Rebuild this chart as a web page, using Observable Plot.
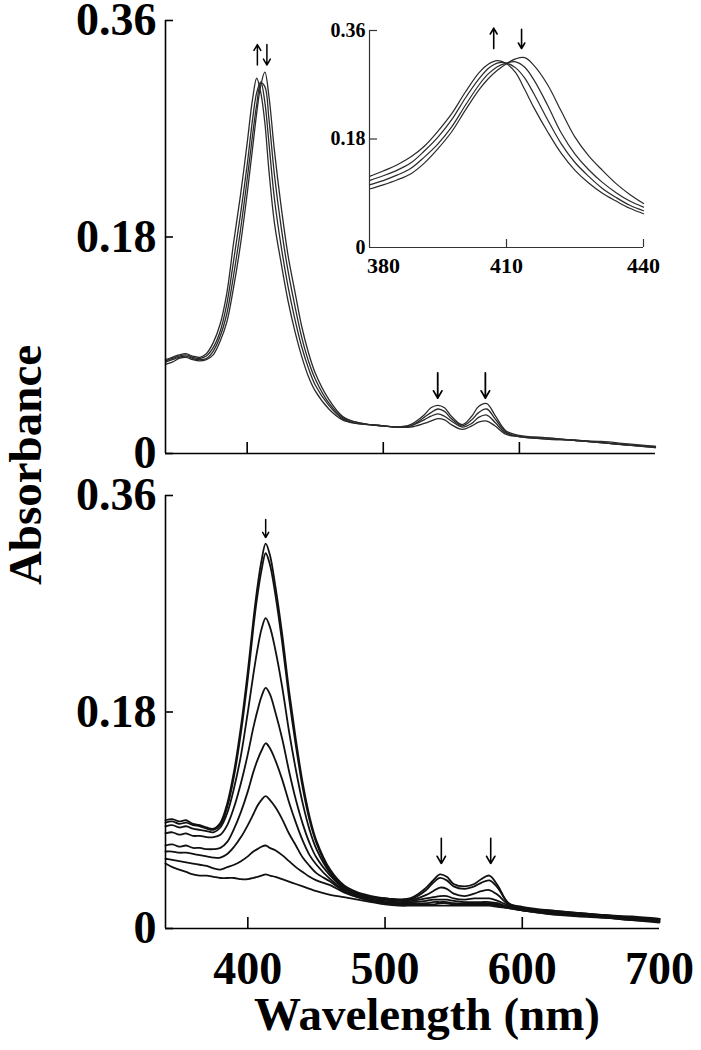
<!DOCTYPE html>
<html><head><meta charset="utf-8">
<script src="https://cdn.jsdelivr.net/npm/d3@7"></script>
<script src="https://cdn.jsdelivr.net/npm/@observablehq/plot@0.6"></script>
<style>
body{margin:0;background:#fff;}
#wrap{position:relative;width:701px;height:1050px;overflow:hidden;font-family:'Liberation Serif','Times New Roman',serif;font-weight:bold;color:#000;background:#fff;}
.abs{position:absolute;}
.abs svg{display:block;}
</style></head><body><div id="wrap"></div>
<script>
// ---------- data ----------
const wavelengths = [340,345,350,355,360,365,370,375,380,385,390,395,400,404,407,410,413,416,420,425,430,435,440,445,450,460,470,480,490,500,510,520,530,535,540,545,550,558,565,570,576,582,590,600,620,640,660,680,700];

// top panel: four spectra (Soret shift 413 -> 407 nm)
const topA = [.078,.080,.082,.083,.081,.080,.083,.092,.107,.133,.175,.214,.258,
  .295,.312,.300,.275,.235,
  .192,.158,.127,.102,.081,.064,.052,
  .037,.028,.025,.024,.023,.022,.022,
  .025,.027,.029,.028,.024,
  .020,.023,.026,.027,.023,.016,
  .014,.012,.011,.009,.007,.005];
const topB = [.077,.079,.081,.082,.080,.079,.081,.088,.101,.124,.160,.198,.240,
  .278,.300,.309,.292,.258,
  .212,.172,.139,.112,.089,.071,.057,
  .040,.029,.025,.024,.023,.022,.023,
  .028,.031,.033,.031,.027,
  .022,.025,.030,.032,.026,.017,
  .014,.013,.011,.009,.007,.006];
const topC = [.076,.078,.080,.081,.079,.078,.079,.085,.097,.116,.148,.185,.228,
  .265,.290,.308,.305,.278,
  .232,.188,.152,.123,.097,.077,.062,
  .042,.030,.026,.024,.023,.022,.023,
  .030,.034,.037,.035,.029,
  .023,.028,.034,.037,.029,.018,
  .014,.012,.011,.009,.007,.005];
const topD = [.074,.076,.079,.080,.078,.077,.078,.082,.093,.109,.138,.173,.216,
  .254,.283,.306,.317,.297,
  .252,.205,.165,.135,.106,.084,.067,
  .045,.031,.026,.024,.023,.022,.024,
  .032,.038,.040,.038,.031,
  .024,.031,.039,.0415,.032,.019,
  .015,.013,.011,.010,.008,.006];

// bottom panel: eight spectra (decreasing Soret band at 413 nm)
const bot1 = [.090,.091,.089,.090,.087,.086,.084,.083,.088,.104,.131,.168,.214,
  .256,.284,.306,.320,.311,
  .285,.245,.198,.157,.121,.093,.073,
  .049,.036,.030,.027,.025,.024,.026,
  .034,.040,.045,.043,.037,
  .035,.037,.041,.044,.036,.021,
  .018,.015,.013,.011,.010,.008];
const bot2 = [.088,.089,.087,.088,.086,.085,.083,.082,.086,.101,.127,.163,.208,
  .250,.277,.298,.312,.303,
  .278,.238,.192,.152,.117,.090,.071,
  .047,.035,.029,.026,.025,.024,.025,
  .032,.038,.042,.040,.035,
  .033,.035,.038,.040,.034,.021,
  .017,.015,.013,.011,.009,.008];
const bot3 = [.085,.086,.084,.085,.083,.082,.081,.080,.084,.096,.117,.144,.180,
  .211,.232,.249,.258,.251,
  .232,.201,.164,.132,.104,.082,.066,
  .046,.034,.029,.026,.025,.024,.024,
  .028,.031,.034,.033,.029,
  .027,.029,.031,.032,.028,.020,
  .017,.014,.012,.011,.009,.008];
const bot4 = [.079,.080,.078,.079,.077,.077,.076,.076,.078,.086,.101,.121,.145,
  .167,.181,.193,.200,.195,
  .180,.158,.131,.107,.087,.071,.059,
  .044,.033,.028,.025,.024,.023,.023,
  .025,.026,.027,.027,.025,
  .024,.025,.025,.025,.023,.019,
  .016,.014,.012,.010,.009,.007];
const bot5 = [.069,.070,.068,.069,.067,.067,.066,.066,.067,.072,.083,.097,.114,
  .130,.140,.148,.154,.150,
  .140,.124,.105,.088,.073,.061,.053,
  .041,.032,.027,.024,.023,.022,.022,
  .023,.024,.024,.024,.023,
  .022,.022,.022,.022,.021,.018,
  .016,.013,.012,.010,.008,.007];
const bot6 = [.064,.064,.063,.063,.062,.061,.060,.059,.059,.062,.068,.076,.086,
  .095,.102,.107,.110,.107,
  .101,.091,.079,.069,.059,.052,.046,
  .039,.031,.026,.023,.022,.021,.021,
  .021,.022,.022,.022,.021,
  .021,.021,.021,.021,.020,.018,
  .015,.013,.011,.009,.008,.006];
const bot7 = [.058,.057,.056,.055,.054,.053,.052,.050,.049,.051,.053,.056,.060,
  .064,.066,.068,.069,.067,
  .065,.061,.056,.051,.047,.043,.040,
  .036,.030,.026,.023,.021,.020,.020,
  .020,.020,.021,.021,.020,
  .020,.020,.020,.020,.019,.017,
  .015,.012,.011,.009,.007,.006];
const bot8 = [.054,.051,.049,.047,.045,.044,.044,.043,.042,.042,.042,.041,.041,
  .042,.043,.044,.045,.044,
  .043,.041,.039,.037,.035,.033,.031,
  .028,.026,.024,.022,.020,.019,.019,
  .019,.019,.019,.019,.019,
  .019,.019,.019,.019,.018,.017,
  .015,.012,.010,.009,.007,.005];

// inset: Soret region of the top panel
const insetWavelengths = [380,383,386,389,392,395,398,401,404,406,408,410,412,414,416,419,422,425,428,431,434,437,440];
const insA = [.118,.127,.137,.150,.168,.193,.222,.258,.290,.304,.310,.305,.290,.262,.232,.192,.156,.128,.107,.090,.077,.065,.056];
const insB = [.111,.119,.128,.140,.160,.183,.212,.248,.280,.297,.306,.306,.298,.281,.255,.212,.172,.141,.118,.098,.083,.070,.061];
const insC = [.104,.111,.120,.131,.150,.172,.200,.236,.270,.288,.300,.306,.308,.299,.278,.236,.190,.155,.129,.108,.091,.077,.067];
const insD = [.097,.104,.112,.122,.140,.164,.192,.228,.262,.280,.294,.305,.313,.315,.302,.270,.226,.183,.152,.128,.106,.088,.073];

// ticks
const yTicks = [0, 0.18, 0.36];
const xTickMarks = [400, 500, 600];
const xTickLabels = [400, 500, 600, 700];
const insetYTicks = [0, 0.18, 0.36];
const insetXTicks = [380, 410, 440];

// annotation arrows (wavelength, absorbance from -> to)
const topSoretArrows = [{x: 407.5, y1: 0.323, y2: 0.340}, {x: 414.5, y1: 0.340, y2: 0.323}];
const topQArrows = [{x: 540, y1: 0.067, y2: 0.046}, {x: 575, y1: 0.067, y2: 0.046}];
const botSoretArrows = [{x: 413, y1: 0.340, y2: 0.325}];
const botQArrows = [{x: 541, y1: 0.075, y2: 0.054}, {x: 577, y1: 0.075, y2: 0.054}];
const insetArrows = [{x: 407.2, y1: 0.330, y2: 0.364}, {x: 413.3, y1: 0.362, y2: 0.330}];

// ---------- helpers ----------
function rows(wl, series) {
  const out = [];
  series.forEach((vals, i) => vals.forEach((v, j) => out.push({id: i, wl: wl[j], a: v})));
  return out;
}
const fmt = d => d === 0 ? "0" : d3.format(".2f")(d);
const baseStyle = {fontFamily: "'Liberation Serif','Times New Roman',serif", fontWeight: "bold", background: "transparent", overflow: "visible", color: "#000"};

const wrap = document.getElementById("wrap");
function place(node, left, top) {
  const d = document.createElement("div");
  d.className = "abs"; d.style.left = left + "px"; d.style.top = top + "px";
  d.appendChild(node); wrap.appendChild(d);
}

// ---------- top panel ----------
const topW = 701, topH = 470, tML = 165, tMR = 46, tMT = 20, tMB = 17;
const topPlot = Plot.plot({
  width: topW, height: topH, marginLeft: tML, marginRight: tMR, marginTop: tMT, marginBottom: tMB,
  x: {domain: [340, 700], axis: null},
  y: {domain: [0, 0.36], label: null},
  style: baseStyle,
  marks: [
    Plot.line(rows(wavelengths, [topA, topB, topC, topD]), {x: "wl", y: "a", z: "id", curve: "catmull-rom", stroke: "#2a2a2a", strokeWidth: 1.3}),
    Plot.ruleX([340], {strokeWidth: 1.6}),
    Plot.ruleY([0], {strokeWidth: 1.6}),
    Plot.tickX(xTickMarks, {x: d => d, insetTop: (topH - tMT - tMB) - 11, strokeWidth: 1.6}),
    Plot.tickY(yTicks, {y: d => d, insetRight: (topW - tML - tMR) - 8, strokeWidth: 1.6}),
    Plot.axisY(yTicks, {tickSize: 0, tickPadding: 9, tickFormat: fmt, fontSize: 46, label: null}),
    Plot.arrow(topSoretArrows, {x: "x", y1: "y1", y2: "y2", headLength: 7, strokeWidth: 1.5}),
    Plot.arrow(topQArrows, {x: "x", y1: "y1", y2: "y2", headLength: 10, strokeWidth: 1.8})
  ]
});
place(topPlot, 0, 0);

// ---------- inset ----------
const iW = 370, iH = 290, iML = 69, iMR = 27, iMT = 30, iMB = 43;
const insetPlot = Plot.plot({
  width: iW, height: iH, marginLeft: iML, marginRight: iMR, marginTop: iMT, marginBottom: iMB,
  x: {domain: [380, 440], label: null},
  y: {domain: [0, 0.36], label: null},
  style: baseStyle,
  marks: [
    Plot.line(rows(insetWavelengths, [insA, insB, insC, insD]), {x: "wl", y: "a", z: "id", curve: "catmull-rom", stroke: "#2a2a2a", strokeWidth: 1.2}),
    Plot.ruleX([380], {strokeWidth: 1.2, stroke: "#333"}),
    Plot.ruleY([0], {strokeWidth: 1.2, stroke: "#333"}),
    Plot.tickX(insetXTicks.slice(1), {x: d => d, insetTop: (iH - iMT - iMB) - 8, strokeWidth: 1.2, stroke: "#333"}),
    Plot.tickY(insetYTicks.slice(1), {y: d => d, insetRight: (iW - iML - iMR) - 8, strokeWidth: 1.2, stroke: "#333"}),
    Plot.axisY(insetYTicks, {tickSize: 0, tickPadding: 4, tickFormat: fmt, fontSize: 20, label: null}),
    Plot.axisX(insetXTicks.slice(1), {tickSize: 0, tickPadding: 10, fontSize: 22, label: null}),
    Plot.axisX(insetXTicks.slice(0, 1), {tickSize: 0, tickPadding: 10, fontSize: 22, label: null, dx: 14}),
    Plot.arrow(insetArrows, {x: "x", y1: "y1", y2: "y2", headLength: 8, strokeWidth: 1.6})
  ]
});
place(insetPlot, 300, 0);

// ---------- bottom panel ----------
const bW = 701, bH = 580, bML = 165, bMR = 42, bMT = 25, bMB = 122;
const botPlot = Plot.plot({
  width: bW, height: bH, marginLeft: bML, marginRight: bMR, marginTop: bMT, marginBottom: bMB,
  x: {domain: [340, 700], label: null},
  y: {domain: [0, 0.36], label: null},
  style: baseStyle,
  marks: [
    Plot.line(rows(wavelengths, [bot1, bot2, bot3, bot4, bot5, bot6, bot7, bot8]), {x: "wl", y: "a", z: "id", curve: "catmull-rom", stroke: "#111", strokeWidth: 1.8}),
    Plot.ruleX([340], {strokeWidth: 1.6}),
    Plot.ruleY([0], {strokeWidth: 1.6}),
    Plot.tickX(xTickMarks, {x: d => d, insetTop: (bH - bMT - bMB) - 11, strokeWidth: 1.6}),
    Plot.tickY(yTicks, {y: d => d, insetRight: (bW - bML - bMR) - 8, strokeWidth: 1.6}),
    Plot.axisY(yTicks, {tickSize: 0, tickPadding: 9, tickFormat: fmt, fontSize: 46, label: null}),
    Plot.axisX(xTickLabels, {tickSize: 0, tickPadding: 23, fontSize: 46, label: null}),
    Plot.arrow(botSoretArrows, {x: "x", y1: "y1", y2: "y2", headLength: 7, strokeWidth: 1.5}),
    Plot.arrow(botQArrows, {x: "x", y1: "y1", y2: "y2", headLength: 9, strokeWidth: 1.6})
  ]
});
place(botPlot, 0, 470);

// ---------- axis titles ----------
const xt = document.createElement("div");
xt.textContent = "Wavelength (nm)";
Object.assign(xt.style, {position: "absolute", left: "427px", top: "1006px", transform: "translateX(-50%)", fontSize: "47px", lineHeight: "16px", whiteSpace: "nowrap"});
wrap.appendChild(xt);
const yt = document.createElement("div");
yt.textContent = "Absorbance";
Object.assign(yt.style, {position: "absolute", left: "25px", top: "465px", transform: "translate(-50%,-50%) rotate(-90deg)", fontSize: "47px", lineHeight: "47px", whiteSpace: "nowrap"});
wrap.appendChild(yt);
</script></body></html>
